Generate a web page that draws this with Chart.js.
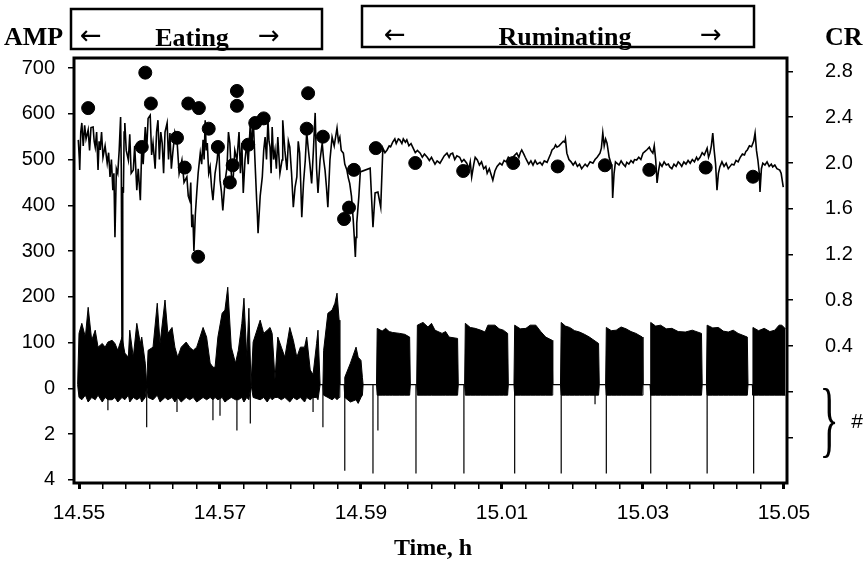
<!DOCTYPE html>
<html>
<head>
<meta charset="utf-8">
<script src="https://cdn.jsdelivr.net/npm/chart.js@4/dist/chart.umd.min.js"></script>
<style>
html, body { margin: 0; padding: 0; background: #fff; }
</style>
</head>
<body>
<canvas id="graph" width="867" height="564"></canvas>
<script>
// time in minutes after 14.55 h (axis runs 14.55 .. 15.05)
var xTickLabels = ["14.55", "14.57", "14.59", "15.01", "15.03", "15.05"];
var xMajorPos = [0, 2, 4, 6, 8, 10];

var ampTickPos = [-200, -100, 0, 100, 200, 300, 400, 500, 600, 700];
var ampTickLabels = ["4", "2", "0", "100", "200", "300", "400", "500", "600", "700"];

var crTickPos = [-0.4, 0, 0.4, 0.8, 1.2, 1.6, 2.0, 2.4, 2.8];
var crTickLabels = ["", "", "0.4", "0.8", "1.2", "1.6", "2.0", "2.4", "2.8"];

var SANS = '"Liberation Sans", Arial, Helvetica, sans-serif';
var SERIF = '"Liberation Serif", "Times New Roman", serif';

// upper trace (AMP), eating part
var ampTimesEat = [-0.01,0.005,0.01,0.025,0.04,0.06,0.08,0.10,0.13,0.15,0.17,0.20,0.215,0.23,0.25,0.27,0.285,0.30,0.32,0.34,
  0.37,0.40,0.42,0.44,0.46,0.48,0.495,0.51,0.53,0.55,0.57,0.59,0.60,0.61,0.62,0.63,0.64,0.65,0.67,0.70,
  0.72,0.74,0.77,0.79,0.82,0.84,0.87,0.89,0.91,0.94,0.96,0.98,1.01,1.03,1.05,1.08,1.10,1.12,1.14,1.16,
  1.18,1.20,1.22,1.25,1.27,1.29,1.31,1.33,1.36,1.39,1.42,1.46,1.49,1.53,1.55,1.57,1.585,1.60,1.615,1.63,
  1.65,1.67,1.69,1.72,1.74,1.76,1.775,1.79,1.805,1.82,1.84,1.86,1.88,1.90,1.93,1.96,1.98,2.00,2.02,2.04,
  2.07,2.10,2.12,2.14,2.16,2.18,2.21,2.24,2.27,2.29,2.31,2.33,2.355,2.38,2.40,2.43,2.45,2.47,2.49,2.52,
  2.53,2.54,2.57,2.60,2.62,2.64,2.66,2.68,2.695,2.71,2.725,2.74,2.76,2.78,2.80,2.82,2.85,2.88,2.89,2.92,
  2.95,2.97,2.99,3.015,3.04,3.065,3.09,3.11,3.13,3.145,3.16,3.185,3.21,3.23,3.25,3.275,3.30,3.325,3.35,3.37,
  3.39,3.42,3.45,3.47,3.49,3.51,3.53,3.56,3.59,3.62,3.66,3.68,3.70,3.72,3.75,3.77,3.80,3.82,3.84,3.865,
  3.89,3.905,3.92,3.93,3.94,3.97,3.99,4.13,4.17,4.20,4.24,4.28];
var ampValuesEat = [543,500,477,560,580,530,575,545,565,520,570,571,540,527,560,477,540,521,560,505,
  530,492,515,462,500,433,470,330,480,470,520,593,480,90,440,427,560,580,520,499,
  555,470,477,530,433,480,411,527,490,571,520,590,597,510,536,480,560,586,500,560,
  536,470,560,580,500,558,480,514,560,543,470,499,450,462,420,411,450,352,380,300,
  380,427,470,514,490,543,500,586,520,536,470,484,440,411,470,499,540,455,430,389,
  450,484,560,536,470,440,520,499,560,470,536,427,500,536,490,580,520,593,520,411,
  380,339,420,462,520,549,500,586,540,527,470,571,500,521,480,549,470,499,586,520,
  477,540,527,470,396,440,462,540,514,450,374,450,499,560,527,490,448,520,602,480,
  427,500,536,500,477,440,396,500,549,530,569,540,549,520,514,490,477,460,448,420,
  368,330,287,330,361,420,473,481,352,427,429,396];

// upper trace (AMP), ruminating part
var ampTimesRum = [4.31,4.34,4.37,4.40,4.42,4.45,4.48,4.50,4.53,4.55,4.58,4.60,4.63,4.65,4.68,4.71,4.74,4.77,4.80,4.84,
  4.87,4.90,4.94,4.97,5.00,5.02,5.05,5.08,5.12,5.15,5.18,5.22,5.25,5.27,5.30,5.33,5.36,5.40,5.43,5.46,
  5.50,5.53,5.55,5.57,5.60,5.62,5.65,5.68,5.71,5.74,5.77,5.79,5.82,5.85,5.87,5.90,5.93,5.97,6.00,6.03,
  6.06,6.09,6.11,6.14,6.17,6.21,6.24,6.26,6.28,6.31,6.33,6.35,6.38,6.41,6.44,6.47,6.50,6.54,6.57,6.60,
  6.64,6.67,6.69,6.71,6.74,6.76,6.78,6.81,6.84,6.87,6.89,6.90,6.92,6.95,6.98,7.01,7.04,7.07,7.10,7.13,
  7.15,7.18,7.21,7.25,7.29,7.32,7.35,7.39,7.41,7.43,7.45,7.47,7.49,7.52,7.55,7.56,7.57,7.59,7.61,7.63,
  7.66,7.69,7.72,7.75,7.77,7.80,7.83,7.86,7.88,7.91,7.94,7.97,8.00,8.03,8.06,8.09,8.11,8.14,8.16,8.18,
  8.20,8.22,8.24,8.27,8.30,8.33,8.36,8.38,8.41,8.44,8.47,8.50,8.52,8.55,8.58,8.61,8.64,8.67,8.70,8.73,
  8.76,8.78,8.81,8.84,8.87,8.91,8.93,8.95,8.97,8.99,9.01,9.03,9.05,9.07,9.09,9.12,9.15,9.18,9.21,9.23,
  9.26,9.29,9.32,9.35,9.38,9.41,9.44,9.46,9.48,9.51,9.54,9.57,9.59,9.61,9.63,9.65,9.66,9.68,9.70,9.73,
  9.76,9.79,9.82,9.84,9.87,9.90,9.94,9.96,9.99];
var ampValuesRum = [525,515,521,530,528,538,545,535,545,543,535,545,538,543,530,535,525,515,520,514,
  505,512,505,498,505,499,490,497,492,500,508,514,505,512,514,500,508,505,495,500,
  492,480,495,462,490,505,499,488,495,480,485,470,480,465,455,475,485,492,488,498,
  495,505,503,495,508,514,505,515,521,512,505,499,490,497,488,498,490,494,488,497,
  494,505,512,521,525,532,527,530,535,540,538,545,514,500,495,488,495,485,490,480,
  484,490,485,495,492,500,505,514,525,558,530,545,536,505,490,484,416,470,495,492,
  488,497,490,485,494,490,498,493,500,499,505,500,514,518,522,527,520,514,530,500,
  449,475,492,485,495,488,490,484,480,490,485,495,492,485,495,490,498,492,500,495,
  505,499,505,515,510,525,505,514,530,558,520,490,433,470,484,495,485,492,480,484,
  490,488,498,495,505,512,510,518,521,530,528,540,558,520,499,470,429,480,492,488,
  495,485,490,484,488,480,477,470,440];

// lower trace: envelope of the fast signal
var sigTimes = [-0.02,0.00,0.04,0.09,0.13,0.18,0.23,0.27,0.33,0.37,0.41,0.47,0.51,0.55,0.61,0.65,0.70,0.72,0.77,0.82,
  0.87,0.89,0.94,0.96,0.98,1.05,1.11,1.15,1.22,1.26,1.32,1.36,1.40,1.45,1.52,1.57,1.62,1.67,1.76,1.81,
  1.86,1.90,1.93,1.97,2.03,2.07,2.11,2.16,2.22,2.26,2.31,2.34,2.38,2.41,2.44,2.47,2.57,2.62,2.67,2.71,
  2.74,2.78,2.82,2.87,2.92,2.99,3.04,3.09,3.14,3.20,3.23,3.28,3.32,3.37,3.39,3.42,3.46,3.47,3.53,3.59,
  3.63,3.66,3.69,3.70,3.76,3.77,3.85,3.93,3.96,4.00,4.02,4.03,4.22,4.23,4.30,4.35,4.40,4.45,4.55,4.62,
  4.69,4.70,4.79,4.80,4.88,4.95,5.00,5.05,5.15,5.20,5.25,5.37,5.38,5.47,5.48,5.55,5.62,5.70,5.76,5.80,
  5.90,5.96,6.02,6.08,6.09,6.17,6.18,6.26,6.34,6.40,6.48,6.55,6.62,6.71,6.72,6.83,6.84,6.90,6.96,7.03,
  7.10,7.17,7.24,7.37,7.38,7.47,7.48,7.55,7.62,7.69,7.76,7.83,7.90,7.99,8.00,8.10,8.11,8.18,8.25,8.33,
  8.41,8.50,8.60,8.70,8.83,8.84,8.90,8.91,8.99,9.07,9.14,9.21,9.28,9.35,9.48,9.49,9.55,9.56,9.64,9.72,
  9.80,9.87,9.93,9.97,10.02];
var sigHigh = [8,120,142,112,177,105,127,90,98,90,101,105,98,83,112,77,68,127,68,142,
  98,112,55,8,83,90,186,98,193,120,133,90,68,90,101,90,83,90,133,112,
  55,46,46,112,164,171,221,90,55,83,142,197,68,175,8,101,149,120,127,133,
  120,20,112,90,68,133,105,68,90,90,112,40,30,98,127,8,8,83,164,171,
  186,208,149,8,8,24,55,90,68,61,24,8,8,131,125,131,124,122,120,118,
  112,8,8,138,144,134,142,127,120,124,112,109,8,8,142,133,131,127,123,138,
  138,130,127,120,8,8,138,130,131,138,138,124,112,105,8,8,144,136,133,126,
  123,118,112,98,8,8,133,126,127,134,130,124,120,112,8,8,144,136,138,130,
  131,124,123,127,120,8,8,138,132,133,125,123,127,120,112,8,8,133,126,131,
  124,127,138,138,130];
var sigLow = [8,-20,-25,-15,-30,-20,-25,-15,-30,-20,-25,-25,-20,-30,-20,-25,-15,-30,-20,-25,
  -20,-30,-20,8,-20,-25,-15,-30,-20,-25,-20,-30,-20,-30,-20,-25,-20,-30,-20,-25,
  -20,-25,-20,-25,-20,-30,-25,-20,-25,-25,-20,-30,-20,-25,8,-20,-25,-20,-30,-20,
  -25,-20,-20,-25,-20,-30,-20,-25,-20,-30,-20,-25,-20,-20,-25,8,8,-15,-20,-25,
  -20,-25,-20,8,8,-20,-30,-25,-33,-20,-15,8,8,-15,-15,-15,-15,-15,-15,-15,
  -15,8,8,-15,-15,-15,-15,-15,-15,-15,-15,-15,8,8,-15,-15,-15,-15,-15,-15,
  -15,-15,-15,-15,8,8,-15,-15,-15,-15,-15,-15,-15,-15,8,8,-15,-15,-15,-15,
  -15,-15,-15,-15,8,8,-15,-15,-15,-15,-15,-15,-15,-15,8,8,-15,-15,-15,-15,
  -15,-15,-15,-15,-15,8,8,-15,-15,-15,-15,-15,-15,-15,-15,8,8,-15,-15,-15,
  -15,-15,-15,-15,-15];

// single downward strokes of the lower trace
var spikeTimes = [0.41,0.96,1.39,1.90,2.00,2.24,2.43,3.32,3.46,3.77,4.17,4.24,4.78,5.46,6.18,6.84,7.32,7.48,8.11,8.91,9.57];
var spikeDepths = [-48,-85,-52,-70,-60,-92,-77,-52,-85,-180,-186,-92,-186,-186,-186,-186,-35,-186,-186,-186,-186];

// CR dots (right axis)
var crTimes = [0.13,0.89,0.94,1.02,1.39,1.50,1.55,1.69,1.70,1.84,1.97,2.14,2.18,2.24,2.24,2.40,2.50,2.62,
  3.23,3.25,3.46,3.76,3.83,3.90,4.21,4.77,5.45,6.16,6.79,7.46,8.09,8.89,9.56];
var crValues = [2.48,2.14,2.79,2.52,2.22,1.96,2.52,1.18,2.48,2.30,2.14,1.83,1.98,2.63,2.50,2.16,2.35,2.39,
  2.30,2.61,2.23,1.51,1.61,1.94,2.13,2.00,1.93,2.00,1.97,1.98,1.94,1.96,1.88];

function pts(xs, ys) {
  return xs.map(function (x, i) { return {x: x, y: ys[i]}; });
}

var ampData = pts(ampTimesEat, ampValuesEat).concat(pts(ampTimesRum, ampValuesRum));

var spikeData = [];
spikeTimes.forEach(function (t, i) {
  spikeData.push({x: t, y: 8}, {x: t, y: spikeDepths[i]}, {x: t, y: null});
});

var xTickPos = [];
for (var i = 0; i <= 30; i++) xTickPos.push(i / 3);

function isMajor(v) {
  return xMajorPos.some(function (p) { return Math.abs(p - v) < 1e-6; });
}

var decor = {
  id: 'decor',
  afterDraw: function (chart) {
    var c = chart.ctx, a = chart.chartArea;
    c.save();
    c.fillStyle = '#000';
    c.strokeStyle = '#000';
    c.lineWidth = 3;
    c.strokeRect(a.left, a.top, a.right - a.left, a.bottom - a.top);

    // phase boxes
    c.textBaseline = 'alphabetic';
    c.textAlign = 'center';
    c.font = 'bold 26px ' + SERIF;
    c.fillText('Eating', 192, 46);
    c.fillText('Ruminating', 565, 45);
    c.font = '26px "DejaVu Sans"';
    c.fillText('\u2190', 91, 44);
    c.fillText('\u2192', 269, 44);
    c.fillText('\u2190', 395, 43);
    c.fillText('\u2192', 711, 43);
    c.fillStyle = '#fff';
    c.fillRect(60, 51, 270, 5);
    c.fillRect(355, 50, 410, 6);
    c.fillStyle = '#000';
    c.lineWidth = 2.5;
    c.strokeRect(71, 9, 251, 40);
    c.strokeRect(362, 6, 392, 41);

    // axis names
    c.textAlign = 'left';
    c.font = 'bold 26px ' + SERIF;
    c.fillText('AMP', 4, 45);
    c.fillText('CR', 825, 45);
    c.textAlign = 'center';
    c.font = 'bold 24px ' + SERIF;
    c.fillText('Time, h', 433, 555);

    // brace and mark for the lower scale
    c.save();
    c.translate(829, 425);
    c.scale(1, 2.1);
    c.font = '40px ' + SERIF;
    c.textBaseline = 'middle';
    c.fillText('}', 0, 0);
    c.restore();
    c.font = '21px ' + SANS;
    c.textBaseline = 'middle';
    c.fillText('#', 857, 422);
    c.restore();
  }
};

var ctx = document.getElementById('graph').getContext('2d');

var myChart = new Chart(ctx, {
  type: 'line',
  data: {
    datasets: [
      {
        label: 'signal low',
        data: pts(sigTimes, sigLow),
        borderColor: '#000',
        borderWidth: 1,
        pointRadius: 0,
        fill: false,
        yAxisID: 'y'
      },
      {
        label: 'signal high',
        data: pts(sigTimes, sigHigh),
        borderColor: '#000',
        backgroundColor: '#000',
        borderWidth: 1,
        pointRadius: 0,
        fill: '-1',
        yAxisID: 'y'
      },
      {
        label: 'strokes',
        data: spikeData,
        borderColor: '#000',
        borderWidth: 1.2,
        pointRadius: 0,
        fill: false,
        spanGaps: false,
        yAxisID: 'y'
      },
      {
        label: 'AMP',
        data: ampData,
        borderColor: '#000',
        borderWidth: 1.6,
        pointRadius: 0,
        fill: false,
        yAxisID: 'y'
      },
      {
        type: 'scatter',
        label: 'CR',
        data: pts(crTimes, crValues),
        backgroundColor: '#000',
        borderColor: '#000',
        pointRadius: 6.5,
        showLine: false,
        yAxisID: 'y2'
      }
    ]
  },
  options: {
    responsive: false,
    animation: false,
    layout: { padding: { top: 58, left: 0, right: 0, bottom: 0 } },
    plugins: { legend: { display: false }, tooltip: { enabled: false } },
    scales: {
      x: {
        type: 'linear',
        min: -0.071,
        max: 10.043,
        afterFit: function (s) { s.height = 81; },
        afterBuildTicks: function (s) { s.ticks = xTickPos.map(function (v) { return {value: v}; }); },
        ticks: {
          color: '#000',
          font: { family: SANS, size: 21 },
          padding: 12,
          maxRotation: 0,
          autoSkip: false,
          callback: function (v) {
            var k = xMajorPos.findIndex(function (p) { return Math.abs(p - v) < 1e-6; });
            return k >= 0 ? xTickLabels[k] : '';
          }
        },
        grid: {
          drawOnChartArea: false,
          tickLength: 6,
          color: '#000',
          lineWidth: function (c) { return c.tick && isMajor(c.tick.value) ? 3 : 1.5; }
        },
        border: { display: false }
      },
      y: {
        position: 'left',
        min: -207,
        max: 722,
        afterFit: function (s) { s.width = 74; },
        afterBuildTicks: function (s) { s.ticks = ampTickPos.map(function (v) { return {value: v}; }); },
        ticks: {
          color: '#000',
          font: { family: SANS, size: 20 },
          padding: 13,
          autoSkip: false,
          callback: function (v) { return ampTickLabels[ampTickPos.indexOf(v)]; }
        },
        grid: { drawOnChartArea: false, tickLength: 6, color: '#000', lineWidth: 1.5 },
        border: { display: false }
      },
      y2: {
        position: 'right',
        min: -0.798,
        max: 2.918,
        afterFit: function (s) { s.width = 80; },
        afterBuildTicks: function (s) { s.ticks = crTickPos.map(function (v) { return {value: v}; }); },
        ticks: {
          color: '#000',
          font: { family: SANS, size: 20 },
          padding: 32,
          autoSkip: false,
          callback: function (v) {
            var k = crTickPos.findIndex(function (p) { return Math.abs(p - v) < 1e-6; });
            return k >= 0 ? crTickLabels[k] : '';
          }
        },
        grid: { drawOnChartArea: false, tickLength: 6, color: '#000', lineWidth: 1.5 },
        border: { display: false }
      }
    }
  },
  plugins: [decor]
});
</script>
</body>
</html>
